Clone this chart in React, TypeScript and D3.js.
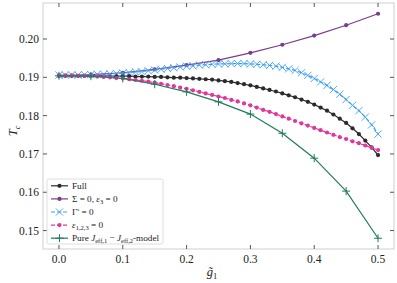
import React from "react";
import * as d3 from "d3";

// fine grid (step 0.01) and coarse grid (step 0.05) of g1
const gFine = d3.range(0, 51).map((i) => i / 100);
const gCoarse = d3.range(0, 11).map((i) => i / 20);

const full = [
  0.1904, 0.1904, 0.1904, 0.1904, 0.1904, 0.1904, 0.1904, 0.1904, 0.1903, 0.1903,
  0.1903, 0.1903, 0.1902, 0.1902, 0.1902, 0.1901, 0.1901, 0.19, 0.1899, 0.1899,
  0.1898, 0.1897, 0.1896, 0.1895, 0.1894, 0.1892, 0.189, 0.1888, 0.1885, 0.1882,
  0.1879, 0.1875, 0.1871, 0.1867, 0.1863, 0.1858, 0.1853, 0.1848, 0.1842, 0.1836,
  0.1829, 0.1821, 0.1813, 0.1803, 0.1792, 0.1781, 0.1767, 0.1752, 0.1735, 0.1717,
  0.1697,
];
const sigmaZero = [0.1904, 0.1907, 0.1912, 0.1921, 0.1932, 0.1945, 0.1964, 0.1985, 0.2009, 0.2036, 0.2066];
const gammaZero = [
  0.1906, 0.1906, 0.1906, 0.1906, 0.1907, 0.1907, 0.1908, 0.1908, 0.1909, 0.191,
  0.1911, 0.1912, 0.1914, 0.1915, 0.1917, 0.1919, 0.1921, 0.1923, 0.1925, 0.1927,
  0.1929, 0.193, 0.1932, 0.1933, 0.1934, 0.1935, 0.1935, 0.1936, 0.1936, 0.1936,
  0.1935, 0.1934, 0.1933, 0.1931, 0.1929, 0.1926, 0.1922, 0.1918, 0.1912, 0.1905,
  0.1897, 0.1888, 0.1879, 0.1868, 0.1856, 0.1842, 0.1827, 0.1813, 0.1796, 0.1776,
  0.1752,
];
const epsZero = [
  0.1905, 0.1905, 0.1905, 0.1904, 0.1904, 0.1903, 0.1902, 0.1901, 0.19, 0.1898,
  0.1897, 0.1895, 0.1893, 0.1891, 0.1889, 0.1886, 0.1883, 0.188, 0.1877, 0.1873,
  0.187, 0.1866, 0.1862, 0.1858, 0.1854, 0.185, 0.1846, 0.1841, 0.1837, 0.1832,
  0.1827, 0.1821, 0.1815, 0.181, 0.1804, 0.1798, 0.1792, 0.1786, 0.178, 0.1774,
  0.1768, 0.1762, 0.1756, 0.175, 0.1744, 0.1739, 0.1733, 0.1728, 0.1722, 0.1716,
  0.171,
];
const pureJ = [0.1904, 0.1903, 0.1897, 0.1882, 0.1862, 0.1836, 0.1804, 0.1754, 0.1689, 0.1603, 0.148];

const xTicks = [0, 0.1, 0.2, 0.3, 0.4, 0.5];
const yTicks = [0.15, 0.16, 0.17, 0.18, 0.19, 0.2];

const W = 397;
const H = 283;
const left = 43, right = 394, top = 3, bottom = 249;

const x = d3.scaleLinear().domain([-0.025, 0.525]).range([left, right]);
const y = d3.scaleLinear().domain([0.14519, 0.2094]).range([bottom, top]);

const FONT = '"Liberation Serif", "Times New Roman", serif';

type Series = {
  key: string;
  xs: number[];
  ys: number[];
  color: string;
  dash?: string;
  marker: "dot" | "x" | "plus";
};

const series: Series[] = [
  { key: "full", xs: gFine, ys: full, color: "#2b2b2b", marker: "dot" },
  { key: "sigma", xs: gCoarse, ys: sigmaZero, color: "#7a3c8f", marker: "dot" },
  { key: "gamma", xs: gFine, ys: gammaZero, color: "#3d9ff0", dash: "4,2", marker: "x" },
  { key: "eps", xs: gFine, ys: epsZero, color: "#e0379b", dash: "4,2", marker: "dot" },
  { key: "pure", xs: gCoarse, ys: pureJ, color: "#1f7d5c", marker: "plus" },
];

function Marker({ kind, cx, cy, color }: { kind: string; cx: number; cy: number; color: string }) {
  if (kind === "dot") return <circle cx={cx} cy={cy} r={2.1} fill={color} />;
  if (kind === "x") {
    const s = 3.6;
    return (
      <path
        d={`M${cx - s},${cy - s}L${cx + s},${cy + s}M${cx - s},${cy + s}L${cx + s},${cy - s}`}
        stroke={color}
        strokeWidth={0.9}
        fill="none"
      />
    );
  }
  const s = 4;
  return (
    <path d={`M${cx - s},${cy}L${cx + s},${cy}M${cx},${cy - s}L${cx},${cy + s}`} stroke={color} strokeWidth={1} fill="none" />
  );
}

export default function App() {
  const line = d3
    .line<[number, number]>()
    .x((d) => x(d[0]))
    .y((d) => y(d[1]));

  const legendItems: { s: Series; label: React.ReactNode }[] = [
    { s: series[0], label: <tspan>Full</tspan> },
    {
      s: series[1],
      label: (
        <>
          <tspan>Σ = 0, </tspan>
          <tspan fontStyle="italic">ε</tspan>
          <tspan fontSize={6.5} dy={2}>3</tspan>
          <tspan dy={-2}> = 0</tspan>
        </>
      ),
    },
    {
      s: series[2],
      label: (
        <>
          <tspan>Γ</tspan>
          <tspan fontSize={5} dy={-4}>s</tspan>
          <tspan dy={4}> = 0</tspan>
        </>
      ),
    },
    {
      s: series[3],
      label: (
        <>
          <tspan fontStyle="italic">ε</tspan>
          <tspan fontSize={6.5} dy={2}>1,2,3</tspan>
          <tspan dy={-2}> = 0</tspan>
        </>
      ),
    },
    {
      s: series[4],
      label: (
        <>
          <tspan>Pure </tspan>
          <tspan fontStyle="italic">J</tspan>
          <tspan fontSize={6.5} dy={2}>eff,1</tspan>
          <tspan dy={-2}> − </tspan>
          <tspan fontStyle="italic">J</tspan>
          <tspan fontSize={6.5} dy={2}>eff,2</tspan>
          <tspan dy={-2}>-model</tspan>
        </>
      ),
    },
  ];

  return (
    <svg width={W} height={H} style={{ position: "absolute", left: 0, top: 0, background: "#fff", fontFamily: FONT }}>
      <defs>
        <clipPath id="plot">
          <rect x={left} y={top} width={right - left} height={bottom - top} />
        </clipPath>
      </defs>

      <g clipPath="url(#plot)">
        {series.map((s) => (
          <g key={s.key}>
            <path
              d={line(s.xs.map((g, i) => [g, s.ys[i]] as [number, number])) || ""}
              fill="none"
              stroke={s.color}
              strokeWidth={1.2}
              strokeDasharray={s.dash}
            />
            {s.xs.map((g, i) => (
              <Marker key={i} kind={s.marker} cx={x(g)} cy={y(s.ys[i])} color={s.color} />
            ))}
          </g>
        ))}
      </g>

      {/* frame */}
      <rect x={left} y={top} width={right - left} height={bottom - top} fill="none" stroke="#cfcfcf" strokeWidth={1} />

      {/* ticks inward on all sides */}
      {xTicks.map((t) => (
        <g key={"x" + t}>
          <line x1={x(t)} x2={x(t)} y1={bottom} y2={bottom - 4} stroke="#444" strokeWidth={0.9} />
          <line x1={x(t)} x2={x(t)} y1={top} y2={top + 4} stroke="#444" strokeWidth={0.9} />
          <text x={x(t)} y={bottom + 14} textAnchor="middle" fontSize={11.5} fill="#222">
            {d3.format(".1f")(t)}
          </text>
        </g>
      ))}
      {yTicks.map((t) => (
        <g key={"y" + t}>
          <line x1={left} x2={left + 4} y1={y(t)} y2={y(t)} stroke="#444" strokeWidth={0.9} />
          <line x1={right} x2={right - 4} y1={y(t)} y2={y(t)} stroke="#444" strokeWidth={0.9} />
          <text x={left - 4} y={y(t) + 4} textAnchor="end" fontSize={11.5} fill="#222">
            {d3.format(".2f")(t)}
          </text>
        </g>
      ))}

      {/* axis labels */}
      <text transform="translate(17,131) rotate(-90)" textAnchor="middle" fontSize={12.5} fill="#222">
        <tspan fontStyle="italic">T</tspan>
        <tspan fontSize={8} dy={3} fontStyle="italic">c</tspan>
      </text>
      <text x={212} y={276} textAnchor="middle" fontSize={12.5} fill="#222">
        <tspan fontStyle="italic">g̃</tspan>
        <tspan fontSize={8.5} dy={3}>1</tspan>
      </text>

      {/* legend */}
      <rect x={47} y={179} width={116} height={65} rx={2} fill="#fff" fillOpacity={0.85} stroke="#d6d6d6" strokeWidth={0.8} />
      {legendItems.map((it, i) => {
        const ly = 185.8 + i * 13.1;
        const s = it.s;
        return (
          <g key={s.key}>
            <line x1={51} x2={68} y1={ly} y2={ly} stroke={s.color} strokeWidth={1.2} strokeDasharray={s.dash} />
            <Marker kind={s.marker} cx={59.5} cy={ly} color={s.color} />
            <text x={72} y={ly + 3} fontSize={9.2} fill="#222">
              {it.label}
            </text>
          </g>
        );
      })}
    </svg>
  );
}
